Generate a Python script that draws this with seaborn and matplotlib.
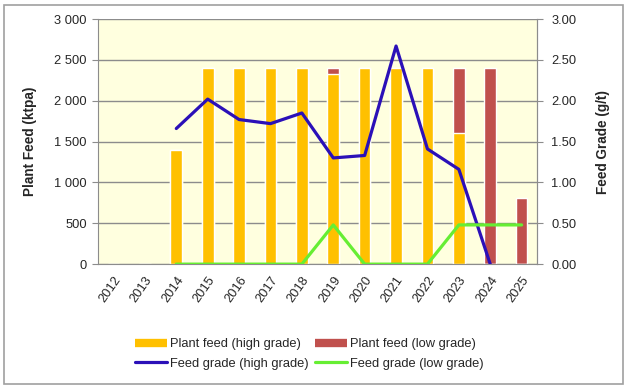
import numpy as np
import matplotlib
matplotlib.use("Agg")
import matplotlib.pyplot as plt
from matplotlib.lines import Line2D
from matplotlib.patches import Rectangle
import seaborn as sns

# ── Data ──────────────────────────────────────────────────────────────────────
years = ["2012", "2013", "2014", "2015", "2016", "2017", "2018",
         "2019", "2020", "2021", "2022", "2023", "2024", "2025"]
feed_high = [0, 0, 1400, 2400, 2400, 2400, 2400,
             2330, 2400, 2400, 2400, 1610, 0, 0]
feed_low = [0, 0, 0, 0, 0, 0, 0,
            70, 0, 0, 0, 790, 2400, 810]
grade_high = [np.nan, np.nan, 1.66, 2.02, 1.77, 1.72, 1.85,
              1.30, 1.33, 2.67, 1.41, 1.16, 0.0, np.nan]
grade_low = [np.nan, np.nan, 0.0, 0.0, 0.0, 0.0, 0.0,
             0.48, 0.0, 0.0, 0.0, 0.48, 0.48, 0.48]
left_ticks = [0, 500, 1000, 1500, 2000, 2500, 3000]
left_labels = ["0", "500", "1 000", "1 500", "2 000", "2 500", "3 000"]
right_ticks = [0, 0.5, 1.0, 1.5, 2.0, 2.5, 3.0]

ORANGE = "#FFC000"
RED = "#C0504D"
BLUE = "#2B10B8"
GREEN = "#66EE33"
GRID = "#8C8C8C"

sns.set_style("white")
plt.rcParams["font.family"] = ["Liberation Sans", "DejaVu Sans"]
plt.rcParams["font.size"] = 9.3

fig = plt.figure(figsize=(6.27, 3.89), dpi=100)
ax = fig.add_axes([0.156, 0.321, 0.701, 0.630])
ax.set_facecolor("#FFFFDF")

# stacked bars: draw the total in red, then the high-grade part on top
total = [h + l for h, l in zip(feed_high, feed_low)]
sns.barplot(x=years, y=total, color=RED, saturation=1, width=0.37, ax=ax)
sns.barplot(x=years, y=feed_high, color=ORANGE, saturation=1, width=0.37, ax=ax)

ax.set_xlim(-0.5, len(years) - 0.5)
ax.set_ylim(0, 3000)
ax.set_yticks(left_ticks)
ax.set_yticklabels(left_labels)
ax.yaxis.grid(True, color=GRID, linewidth=1)
ax.set_axisbelow(True)
ax.set_xticks(np.arange(len(years) + 1) - 0.5, minor=True)
ax.set_xticks(np.arange(len(years)))
ax.set_xticklabels(years, rotation=55, ha="right", rotation_mode="anchor")
ax.tick_params(axis="x", which="major", length=0, pad=7)
ax.tick_params(axis="x", which="minor", length=4, color=GRID, direction="out")
ax.tick_params(axis="y", length=4, color=GRID, direction="out", left=True, pad=4)
ax.set_xlabel("")
ax.set_ylabel("Plant Feed (ktpa)", fontweight="bold", fontsize=9.8, labelpad=12)
for side in ["left", "bottom", "right", "top"]:
    ax.spines[side].set_color(GRID)
ax.spines["top"].set_visible(False)

ax2 = ax.twinx()
xpos = np.arange(len(years))
sns.lineplot(x=xpos, y=grade_high, color=BLUE, linewidth=2.3, ax=ax2)
sns.lineplot(x=xpos, y=grade_low, color=GREEN, linewidth=2.3, ax=ax2)
ax2.set_ylim(0, 3.0)
ax2.set_yticks(right_ticks)
ax2.set_yticklabels([f"{t:.2f}" for t in right_ticks])
ax2.tick_params(axis="y", length=4, color=GRID, direction="out", right=True, pad=6)
ax2.set_ylabel("Feed Grade (g/t)", fontweight="bold", fontsize=9.8, labelpad=14)
for side in ["left", "bottom", "right", "top"]:
    ax2.spines[side].set_visible(False)
ax2.spines["right"].set_visible(True)
ax2.spines["right"].set_color(GRID)

handles = [
    Line2D([], [], color=ORANGE, linewidth=6, solid_capstyle="butt"),
    Line2D([], [], color=BLUE, linewidth=2.3),
    Line2D([], [], color=RED, linewidth=6, solid_capstyle="butt"),
    Line2D([], [], color=GREEN, linewidth=2.3),
]
labels = ["Plant feed (high grade)", "Feed grade (high grade)",
          "Plant feed (low grade)", "Feed grade (low grade)"]
fig.legend(handles, labels, ncol=2, loc="center", bbox_to_anchor=(0.493, 0.090),
           frameon=False, handlelength=2.5, handletextpad=0.2,
           columnspacing=0.5, labelspacing=0.6, fontsize=9.3)

fig.patches.append(Rectangle((4 / 627, 5 / 389), 619 / 627, 379 / 389,
                             transform=fig.transFigure, fill=False,
                             edgecolor="#A0A0A0", linewidth=1.2))

fig.savefig("out.png", dpi=100)
